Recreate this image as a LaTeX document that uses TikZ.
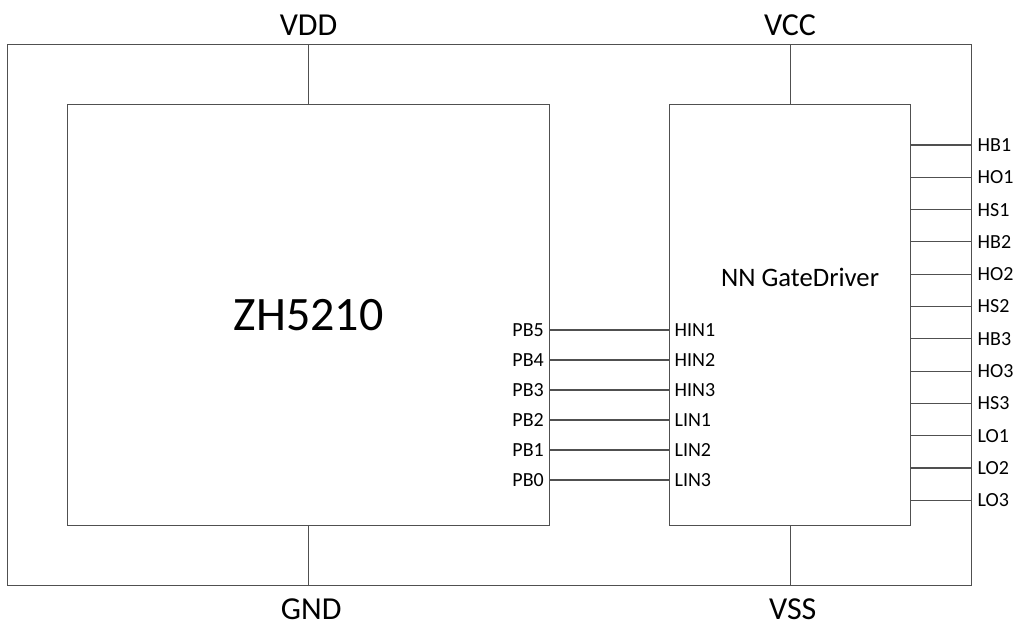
\documentclass[tikz,border=0pt]{standalone}
\usepackage{fontspec}
\setmainfont{Carlito}
\usepackage{xcolor}
\usepackage{tikz}
\usetikzlibrary{positioning}

\definecolor{wiregray}{HTML}{505050}

\begin{document}
\begin{tikzpicture}[x=0.75pt, y=-0.75pt,
        wire/.style={draw=wiregray, line width=0.8pt},
        chip/.style={draw=wiregray, line width=0.8pt, anchor=north west, inner sep=0pt},
        pinlbl/.style={font=\fontsize{15}{15}\selectfont, inner sep=0pt},
        raillbl/.style={font=\fontsize{24}{24}\selectfont, inner sep=0pt}]
        \useasboundingbox (0,0) rectangle (1017,626);

        \node[chip, minimum width=723pt, minimum height=405.75pt] (frame) at (7,44) {};
        \node[chip, minimum width=361.5pt, minimum height=315.75pt] (zh) at (67,104)
                {\fontsize{36}{36}\selectfont ZH5210};
        \node[chip, minimum width=180.75pt, minimum height=315.75pt] (gd) at (669,104) {};
        \node[inner sep=0pt, font=\fontsize{20}{20}\selectfont] (gdname)
                at ([xshift=7.5pt, yshift=28pt]gd.center) {NN GateDriver};

        % supply rails
        \coordinate (vdd) at (zh.north |- frame.north);
        \coordinate (gnd) at (zh.south |- frame.south);
        \coordinate (vcc) at (gd.north |- frame.north);
        \coordinate (vss) at (gd.south |- frame.south);
        \draw[wire] (vdd) -- (zh.north);
        \draw[wire] (gnd) -- (zh.south);
        \draw[wire] (vcc) -- (gd.north);
        \draw[wire] (vss) -- (gd.south);
        \node[raillbl, above=6pt of vdd] (vddlbl) {VDD};
        \node[raillbl, above=6pt of vcc] (vcclbl) {VCC};
        \node[raillbl, below=9.5pt of gnd, xshift=2pt] (gndlbl) {GND};
        \node[raillbl, below=9.5pt of vss, xshift=2pt] (vsslbl) {VSS};

        % control lines
        \foreach \pb/\hin [count=\i from 0] in {PB5/HIN1, PB4/HIN2, PB3/HIN3, PB2/LIN1, PB1/LIN2, PB0/LIN3} {
                \path (zh.north east) ++(0,{226+30*\i}) coordinate (pb\i);
                \draw[wire] (pb\i) -- (pb\i -| gd.west);
                \node[pinlbl, left=4.5pt of pb\i] (pbl\i) {\pb};
                \node[pinlbl, right=4pt of pb\i -| gd.west] (hin\i) {\hin};
        }

        % driver outputs
        \foreach \out [count=\i from 0] in {HB1, HO1, HS1, HB2, HO2, HS2, HB3, HO3, HS3, LO1, LO2, LO3} {
                \path (gd.north east) ++(0,{41+32.3*\i}) coordinate (o\i);
                \draw[wire] (o\i) -- (o\i -| frame.east);
                \node[pinlbl, right=4pt of o\i -| frame.east] (ol\i) {\out};
        }
\end{tikzpicture}
\end{document}
